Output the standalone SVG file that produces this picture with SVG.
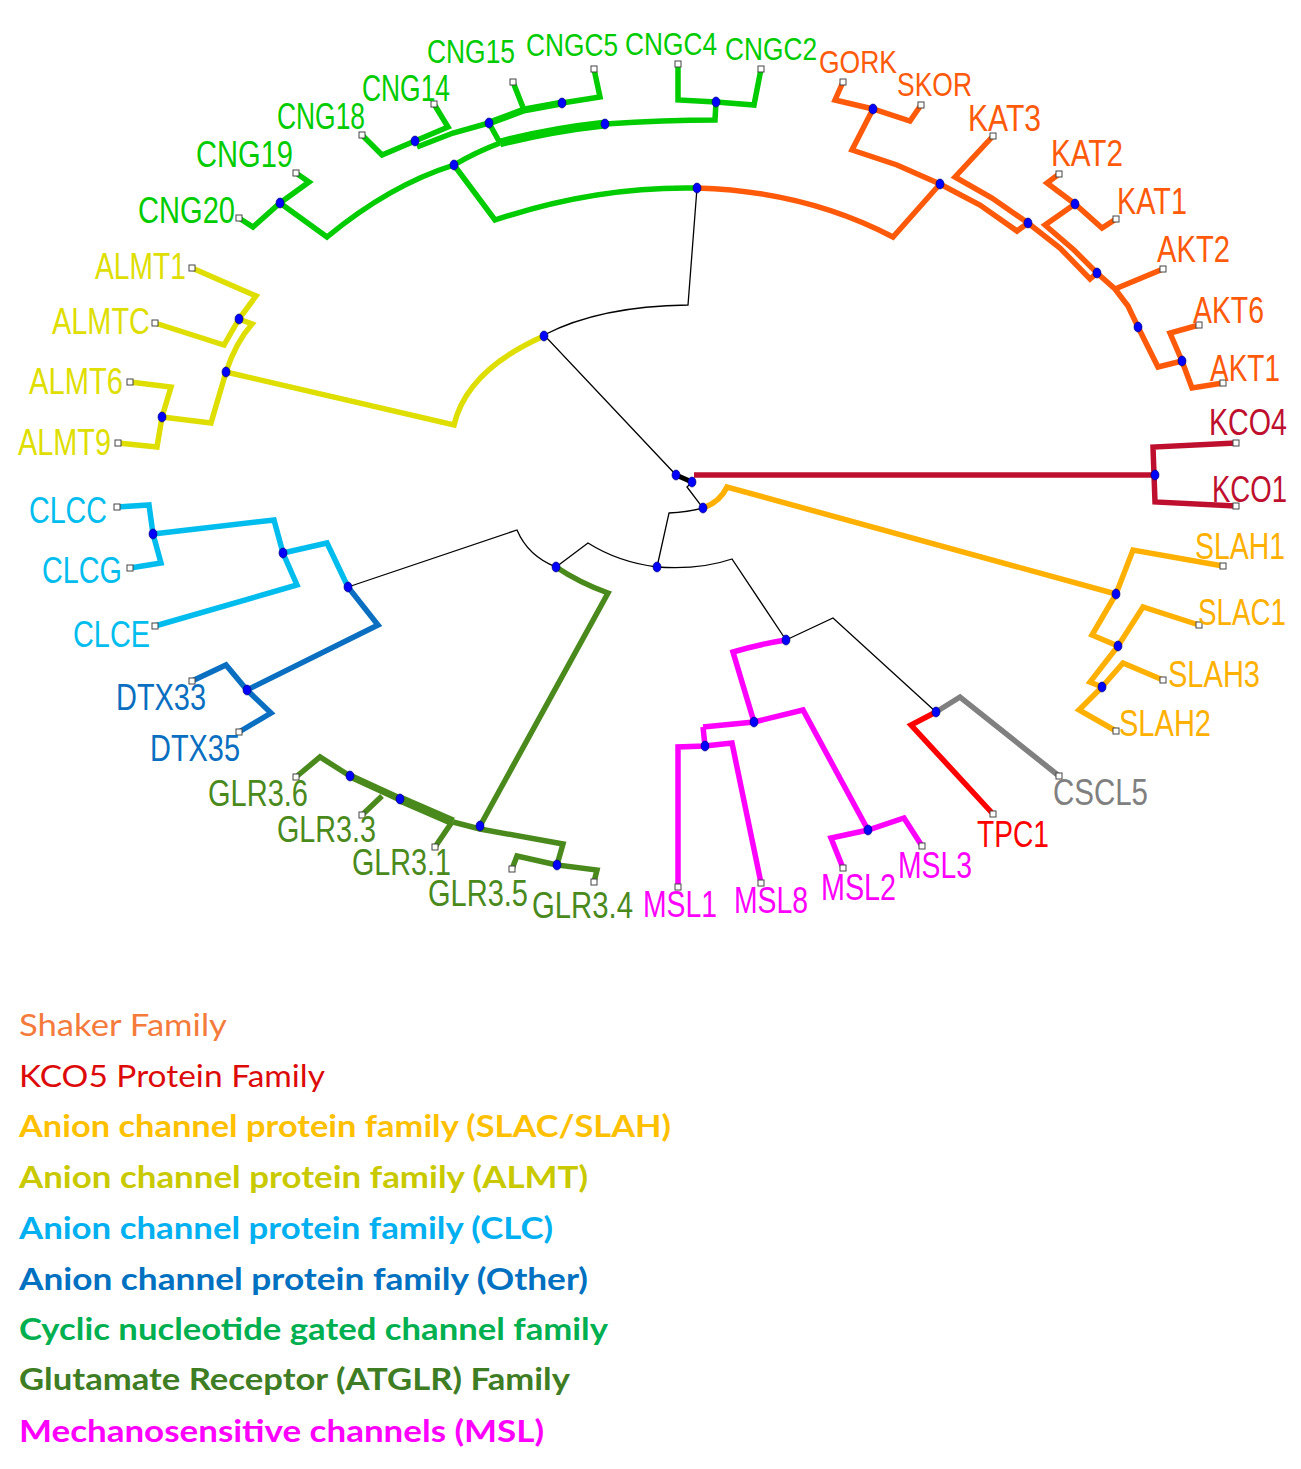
<svg xmlns="http://www.w3.org/2000/svg" xmlns:xlink="http://www.w3.org/1999/xlink" width="1301" height="1469" viewBox="0 0 1301 1469">
<defs>
<ellipse id="dot" cx="0" cy="0" rx="4" ry="5" fill="#0000FF" stroke="#000060" stroke-width="0.6"/>
<rect id="sq" x="-3" y="-3" width="6" height="6" fill="#FFFFFF" stroke="#444" stroke-width="1"/>
</defs>
<style>
.b{fill:none;stroke-width:5.5;stroke-linejoin:miter;stroke-miterlimit:4}
.k{fill:none;stroke:#000;stroke-width:1.3}
.cng{stroke:#00CC00}.shk{stroke:#FF5A0A}.kco{stroke:#BE102E}.slac{stroke:#FFB000}.almt{stroke:#DEDE00}
.clc{stroke:#00BDEE}.dtx{stroke:#0A6FC0}.glr{stroke:#4A8A1C}.msl{stroke:#FF00FF}.tpc{stroke:#FF0000}.cscl{stroke:#808080}
text.l{font-family:"Liberation Sans",Arial,sans-serif;font-size:36px}
.tcng{fill:#00CC00}.tshk{fill:#FF5A0A}.tkco{fill:#BE102E}.tslac{fill:#FFB000}.talmt{fill:#DEDE00}
.tclc{fill:#00BDEE}.tdtx{fill:#0A6FC0}.tglr{fill:#4A8A1C}.tmsl{fill:#FF00FF}.ttpc{fill:#FF0000}.tcscl{fill:#808080}
text.lg{font-family:Lato,"Open Sans",sans-serif;font-size:30px}
</style>
<rect width="1301" height="1469" fill="#FFFFFF"/>
<g id="connectors">
<!-- black backbone -->
<path class="k" d="M697,188 L688,305 Q600,306 544,335 L676,475"/>
<path class="k" d="M692,482 L687,487 L703,508 Q688,512 669,513 L657,567"/>
<path class="k" d="M657,567 Q618,562 588,543 L556,567"/>
<path class="k" d="M556,567 Q528,556 517,530 L348,587"/>
<path class="k" d="M657,567 Q700,570 732,559 L786,640"/>
<path class="k" d="M786,640 L833,618 L936,712"/>
<path d="M676,475 L692,482" fill="none" stroke="#000" stroke-width="5"/>
<!-- CNG green -->
<path class="b cng" d="M239,218 L253,227 L280,203 L309,182 L296,173"/>
<path class="b cng" d="M280,203 L327,237 Q390,185 454,165"/>
<path class="b cng" d="M454,165 L495,220 Q596,186 697,188"/>
<path class="b cng" d="M454,165 Q476,152 500,143"/>
<path class="b cng" style="stroke-width:9" d="M500,143 Q550,130 605,124"/>
<path class="b cng" d="M605,124 Q665,120 715,120 L716,102"/>
<path class="b cng" d="M678,64 L678,100 L716,102 L754,105 L761,69"/>
<path class="b cng" d="M500,143 L489,123"/>
<path class="b cng" d="M417,147 L453,133 L489,123"/>
<path class="b cng" style="stroke-width:7" d="M489,123 L524,110 L562,103"/>
<path class="b cng" d="M562,103 L600,97 L594,69"/>
<path class="b cng" d="M513,82 L524,110"/>
<path class="b cng" d="M362,135 L382,155 L415,141 L448,127 L434,104"/>
<!-- Shaker orange -->
<path class="b shk" d="M697,188 Q805,191 893,237 L940,184"/>
<path class="b shk" d="M843,82 L835,100 L873,109 L910,121 L921,105"/>
<path class="b shk" d="M873,109 L852,150 L897,165 L940,184 L980,205 L1017,231 L1028,223"/>
<path class="b shk" d="M993,136 L955,177 L992,198 L1028,223 L1060,248 L1090,279 L1097,273"/>
<path class="b shk" d="M1059,174 L1047,183 L1075,204 L1102,228 L1116,219"/>
<path class="b shk" d="M1075,204 L1045,225 L1074,250 L1097,273 L1115,289 L1128,306 L1138,327 L1158,367 L1182,361"/>
<path class="b shk" d="M1163,269 L1115,289"/>
<path class="b shk" d="M1199,325 L1170,333 L1182,361 L1192,388 L1223,383"/>
<!-- KCO -->
<path class="b kco" d="M694,475 L1155,475"/>
<path class="b kco" d="M1236,443 L1153,447 L1155,502 L1236,506"/>
<!-- SLAC -->
<path class="b slac" d="M703,508 Q720,502 727,487 L1116,594"/>
<path class="b slac" d="M1116,594 L1133,550 L1223,566"/>
<path class="b slac" d="M1116,594 L1092,635 L1118,646 L1143,607 L1199,625"/>
<path class="b slac" d="M1118,646 L1090,682 L1102,687 L1123,663 L1163,680"/>
<path class="b slac" d="M1102,687 L1079,710 L1116,731"/>
<!-- ALMT -->
<path class="b almt" d="M544,336 Q467,370 454,425 L226,372"/>
<path class="b almt" d="M192,268 L256,296 L239,319 L224,345 L155,323"/>
<path class="b almt" d="M239,319 L252,324 Q236,342 226,372 L211,423 L162,417"/>
<path class="b almt" d="M130,382 L171,387 L162,417 L157,447 L118,443"/>
<!-- CLC / DTX -->
<path class="b clc" d="M117,507 L149,505 L153,534 L161,563 L130,568"/>
<path class="b clc" d="M153,534 L274,520 L283,553 L297,585 L155,626"/>
<path class="b clc" d="M283,553 L327,543 L348,587"/>
<path class="b dtx" d="M348,587 L378,625 L247,690"/>
<path class="b dtx" d="M192,681 L226,665 L247,690 L271,713 L239,732"/>
<!-- GLR -->
<path class="b glr" d="M556,567 Q580,583 608,593 L480,826"/>
<path class="b glr" d="M296,777 L320,757 L350,776"/>
<path class="b glr" style="stroke-width:7" d="M350,776 L400,799"/>
<path class="b glr" style="stroke-width:9" d="M400,799 L453,822"/>
<path class="b glr" d="M453,822 L480,829 L563,844 L557,865 L597,870 L594,882"/>
<path class="b glr" d="M557,865 L517,856 L512,869"/>
<path class="b glr" d="M382,796 L362,815"/>
<path class="b glr" d="M452,822 L435,847"/>
<!-- MSL -->
<path class="b msl" d="M786,640 Q760,644 733,652 L754,722"/>
<path class="b msl" d="M703,727 L754,722 L803,710 L868,830"/>
<path class="b msl" d="M703,727 L705,746"/>
<path class="b msl" d="M678,887 L678,747 L705,746 L732,743 L761,883"/>
<path class="b msl" d="M843,868 L831,838 L868,830 L904,818 L922,846"/>
<!-- TPC / CSCL -->
<path class="b cscl" d="M936,712 L960,697 L1059,776"/>
<path class="b tpc" d="M936,712 L911,725 L993,814"/>
</g>
<g id="internal-nodes">
<use href="#dot" x="280" y="203"/><use href="#dot" x="415" y="141"/><use href="#dot" x="454" y="165"/>
<use href="#dot" x="489" y="123"/><use href="#dot" x="562" y="103"/><use href="#dot" x="605" y="124"/>
<use href="#dot" x="716" y="102"/><use href="#dot" x="697" y="188"/>
<use href="#dot" x="873" y="109"/><use href="#dot" x="940" y="184"/><use href="#dot" x="1028" y="223"/>
<use href="#dot" x="1075" y="204"/><use href="#dot" x="1097" y="273"/><use href="#dot" x="1138" y="327"/>
<use href="#dot" x="1182" y="361"/>
<use href="#dot" x="239" y="319"/><use href="#dot" x="226" y="372"/><use href="#dot" x="162" y="417"/>
<use href="#dot" x="544" y="336"/>
<use href="#dot" x="153" y="534"/><use href="#dot" x="283" y="553"/><use href="#dot" x="348" y="587"/>
<use href="#dot" x="247" y="690"/>
<use href="#dot" x="556" y="567"/><use href="#dot" x="480" y="826"/><use href="#dot" x="350" y="776"/>
<use href="#dot" x="400" y="799"/><use href="#dot" x="557" y="865"/>
<use href="#dot" x="676" y="475"/><use href="#dot" x="692" y="482"/><use href="#dot" x="703" y="508"/>
<use href="#dot" x="657" y="567"/><use href="#dot" x="1155" y="475"/>
<use href="#dot" x="1116" y="594"/><use href="#dot" x="1118" y="646"/><use href="#dot" x="1102" y="687"/>
<use href="#dot" x="786" y="640"/><use href="#dot" x="754" y="722"/><use href="#dot" x="705" y="746"/>
<use href="#dot" x="868" y="830"/><use href="#dot" x="936" y="712"/>
</g>
<g id="leaves">
<g id="n-CNG20"><use href="#sq" x="239" y="218"/><text class="l tcng" x="138" y="223" textLength="97" lengthAdjust="spacingAndGlyphs">CNG20</text></g>
<g id="n-CNG19"><use href="#sq" x="296" y="173"/><text class="l tcng" x="196" y="167" textLength="97" lengthAdjust="spacingAndGlyphs">CNG19</text></g>
<g id="n-CNG18"><use href="#sq" x="362" y="135"/><text class="l tcng" x="277" y="129" textLength="88" lengthAdjust="spacingAndGlyphs">CNG18</text></g>
<g id="n-CNG14"><use href="#sq" x="434" y="104"/><text class="l tcng" x="362" y="101" textLength="88" lengthAdjust="spacingAndGlyphs">CNG14</text></g>
<g id="n-CNG15"><use href="#sq" x="513" y="82"/><text class="l tcng" x="427" y="63" style="font-size:34px" textLength="88" lengthAdjust="spacingAndGlyphs">CNG15</text></g>
<g id="n-CNGC5"><use href="#sq" x="594" y="69"/><text class="l tcng" x="526" y="56" style="font-size:32px" textLength="92" lengthAdjust="spacingAndGlyphs">CNGC5</text></g>
<g id="n-CNGC4"><use href="#sq" x="678" y="64"/><text class="l tcng" x="625" y="55" style="font-size:32px" textLength="92" lengthAdjust="spacingAndGlyphs">CNGC4</text></g>
<g id="n-CNGC2"><use href="#sq" x="761" y="69"/><text class="l tcng" x="725" y="60" style="font-size:32px" textLength="92" lengthAdjust="spacingAndGlyphs">CNGC2</text></g>
<g id="n-GORK"><use href="#sq" x="843" y="82"/><text class="l tshk" x="819" y="73" style="font-size:32px" textLength="78" lengthAdjust="spacingAndGlyphs">GORK</text></g>
<g id="n-SKOR"><use href="#sq" x="921" y="105"/><text class="l tshk" x="897" y="96" style="font-size:34px" textLength="75" lengthAdjust="spacingAndGlyphs">SKOR</text></g>
<g id="n-KAT3"><use href="#sq" x="993" y="136"/><text class="l tshk" x="968" y="131" textLength="73" lengthAdjust="spacingAndGlyphs">KAT3</text></g>
<g id="n-KAT2"><use href="#sq" x="1059" y="174"/><text class="l tshk" x="1051" y="166" textLength="72" lengthAdjust="spacingAndGlyphs">KAT2</text></g>
<g id="n-KAT1"><use href="#sq" x="1116" y="219"/><text class="l tshk" x="1117" y="214" textLength="70" lengthAdjust="spacingAndGlyphs">KAT1</text></g>
<g id="n-AKT2"><use href="#sq" x="1163" y="269"/><text class="l tshk" x="1157" y="262" textLength="73" lengthAdjust="spacingAndGlyphs">AKT2</text></g>
<g id="n-AKT6"><use href="#sq" x="1199" y="325"/><text class="l tshk" x="1193" y="323" textLength="71" lengthAdjust="spacingAndGlyphs">AKT6</text></g>
<g id="n-AKT1"><use href="#sq" x="1223" y="383"/><text class="l tshk" x="1210" y="381" textLength="70" lengthAdjust="spacingAndGlyphs">AKT1</text></g>
<g id="n-KCO4"><use href="#sq" x="1236" y="443"/><text class="l tkco" x="1209" y="435" textLength="78" lengthAdjust="spacingAndGlyphs">KCO4</text></g>
<g id="n-KCO1"><use href="#sq" x="1236" y="506"/><text class="l tkco" x="1212" y="502" textLength="75" lengthAdjust="spacingAndGlyphs">KCO1</text></g>
<g id="n-SLAH1"><use href="#sq" x="1223" y="566"/><text class="l tslac" x="1195" y="559" textLength="90" lengthAdjust="spacingAndGlyphs">SLAH1</text></g>
<g id="n-SLAC1"><use href="#sq" x="1199" y="625"/><text class="l tslac" x="1198" y="625" textLength="88" lengthAdjust="spacingAndGlyphs">SLAC1</text></g>
<g id="n-SLAH3"><use href="#sq" x="1163" y="680"/><text class="l tslac" x="1168" y="687" textLength="92" lengthAdjust="spacingAndGlyphs">SLAH3</text></g>
<g id="n-SLAH2"><use href="#sq" x="1116" y="731"/><text class="l tslac" x="1119" y="736" textLength="92" lengthAdjust="spacingAndGlyphs">SLAH2</text></g>
<g id="n-CSCL5"><use href="#sq" x="1059" y="776"/><text class="l tcscl" x="1053" y="805" textLength="95" lengthAdjust="spacingAndGlyphs">CSCL5</text></g>
<g id="n-TPC1"><use href="#sq" x="993" y="814"/><text class="l ttpc" x="977" y="847" textLength="72" lengthAdjust="spacingAndGlyphs">TPC1</text></g>
<g id="n-MSL3"><use href="#sq" x="922" y="846"/><text class="l tmsl" x="898" y="878" textLength="74" lengthAdjust="spacingAndGlyphs">MSL3</text></g>
<g id="n-MSL2"><use href="#sq" x="843" y="868"/><text class="l tmsl" x="821" y="900" textLength="75" lengthAdjust="spacingAndGlyphs">MSL2</text></g>
<g id="n-MSL8"><use href="#sq" x="761" y="883"/><text class="l tmsl" x="734" y="913" textLength="74" lengthAdjust="spacingAndGlyphs">MSL8</text></g>
<g id="n-MSL1"><use href="#sq" x="678" y="887"/><text class="l tmsl" x="643" y="917" textLength="74" lengthAdjust="spacingAndGlyphs">MSL1</text></g>
<g id="n-GLR3.4"><use href="#sq" x="594" y="882"/><text class="l tglr" x="532" y="918" textLength="101" lengthAdjust="spacingAndGlyphs">GLR3.4</text></g>
<g id="n-GLR3.5"><use href="#sq" x="512" y="869"/><text class="l tglr" x="428" y="906" textLength="100" lengthAdjust="spacingAndGlyphs">GLR3.5</text></g>
<g id="n-GLR3.1"><use href="#sq" x="435" y="847"/><text class="l tglr" x="352" y="875" textLength="99" lengthAdjust="spacingAndGlyphs">GLR3.1</text></g>
<g id="n-GLR3.3"><use href="#sq" x="362" y="815"/><text class="l tglr" x="277" y="842" textLength="99" lengthAdjust="spacingAndGlyphs">GLR3.3</text></g>
<g id="n-GLR3.6"><use href="#sq" x="296" y="777"/><text class="l tglr" x="208" y="806" textLength="100" lengthAdjust="spacingAndGlyphs">GLR3.6</text></g>
<g id="n-DTX35"><use href="#sq" x="239" y="732"/><text class="l tdtx" x="150" y="761" textLength="90" lengthAdjust="spacingAndGlyphs">DTX35</text></g>
<g id="n-DTX33"><use href="#sq" x="192" y="681"/><text class="l tdtx" x="116" y="710" textLength="90" lengthAdjust="spacingAndGlyphs">DTX33</text></g>
<g id="n-CLCE"><use href="#sq" x="155" y="626"/><text class="l tclc" x="73" y="647" textLength="77" lengthAdjust="spacingAndGlyphs">CLCE</text></g>
<g id="n-CLCG"><use href="#sq" x="130" y="568"/><text class="l tclc" x="42" y="583" textLength="80" lengthAdjust="spacingAndGlyphs">CLCG</text></g>
<g id="n-CLCC"><use href="#sq" x="117" y="507"/><text class="l tclc" x="29" y="523" textLength="78" lengthAdjust="spacingAndGlyphs">CLCC</text></g>
<g id="n-ALMT9"><use href="#sq" x="118" y="443"/><text class="l talmt" x="18" y="455" textLength="93" lengthAdjust="spacingAndGlyphs">ALMT9</text></g>
<g id="n-ALMT6"><use href="#sq" x="130" y="382"/><text class="l talmt" x="29" y="394" textLength="94" lengthAdjust="spacingAndGlyphs">ALMT6</text></g>
<g id="n-ALMTC"><use href="#sq" x="155" y="323"/><text class="l talmt" x="52" y="334" textLength="98" lengthAdjust="spacingAndGlyphs">ALMTC</text></g>
<g id="n-ALMT1"><use href="#sq" x="192" y="268"/><text class="l talmt" x="95" y="279" textLength="91" lengthAdjust="spacingAndGlyphs">ALMT1</text></g>
</g>
<g id="legend">
<text class="lg" x="19" y="1036" fill="#F47B3B" textLength="208" lengthAdjust="spacingAndGlyphs">Shaker Family</text>
<text class="lg" x="19" y="1087" fill="#DD0A0A" textLength="306" lengthAdjust="spacingAndGlyphs">KCO5 Protein Family</text>
<text class="lg" x="19" y="1137" fill="#FFC000" font-weight="bold" textLength="652" lengthAdjust="spacingAndGlyphs">Anion channel protein family (SLAC/SLAH)</text>
<text class="lg" x="19" y="1188" fill="#C9C900" font-weight="bold" textLength="569" lengthAdjust="spacingAndGlyphs">Anion channel protein family (ALMT)</text>
<text class="lg" x="19" y="1239" fill="#00B0F0" font-weight="bold" textLength="534" lengthAdjust="spacingAndGlyphs">Anion channel protein family (CLC)</text>
<text class="lg" x="19" y="1290" fill="#0070C0" font-weight="bold" textLength="569" lengthAdjust="spacingAndGlyphs">Anion channel protein family (Other)</text>
<text class="lg" x="19" y="1340" fill="#00B050" font-weight="bold" textLength="589" lengthAdjust="spacingAndGlyphs">Cyclic nucleotide gated channel family</text>
<text class="lg" x="19" y="1390" fill="#3E7D24" font-weight="bold" textLength="551" lengthAdjust="spacingAndGlyphs">Glutamate Receptor (ATGLR) Family</text>
<text class="lg" x="19" y="1442" fill="#FF00FF" font-weight="bold" textLength="525" lengthAdjust="spacingAndGlyphs">Mechanosensitive channels (MSL)</text>
</g>
</svg>
